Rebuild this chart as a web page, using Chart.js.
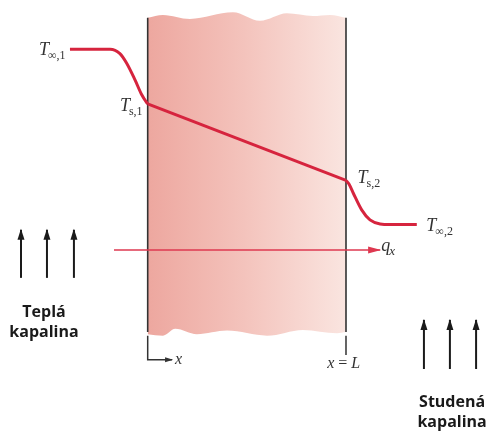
<!DOCTYPE html>
<html>
<head>
<meta charset="utf-8">
<script src="https://cdn.jsdelivr.net/npm/chart.js@4.4.0/dist/chart.umd.min.js"></script>
<style>
  html, body { margin: 0; padding: 0; background: #fff; overflow: hidden; }
  canvas { display: block; }
</style>
</head>
<body>
<canvas id="wallChart" width="486" height="431"></canvas>
<script>
// Temperature profile. x is in units of wall thickness L (0 = hot face, 1 = cold face),
// T is relative temperature (T_inf,1 = 100, T_inf,2 = 0)
const hotFluidX = [-0.392, -0.19, -0.14, -0.106, -0.064, -0.030, -0.005, 0];
const hotFluidT = [100, 100, 97.5, 92, 82.5, 74, 69.5, 68.8];
const wallX = [0, 1];
const wallT = [68.8, 25.1];
const coldFluidX = [1, 1.015, 1.037, 1.079, 1.121, 1.172, 1.222, 1.357];
const coldFluidT = [25.1, 23.1, 17.8, 8.3, 2.6, 0.3, 0, 0];

// Wavy top and bottom edges of the wall slab
const wallTopX = [0, 0.077, 0.213, 0.430, 0.566, 0.702, 0.833, 0.919, 1];
const wallTopT = [118.0, 119.6, 117.3, 121.1, 116.2, 120.5, 119.0, 119.6, 118.0];
const wallBottomX = [0, 0.077, 0.139, 0.248, 0.4, 0.602, 0.783, 0.955, 1];
const wallBottomT = [-62.7, -63.5, -59.6, -62.7, -60.6, -63.5, -60.2, -62.1, -61.4];

// Flow arrows (fluid moving upward) and heat flux arrow
const hotArrowX = [-0.639, -0.508, -0.372];
const coldArrowX = [1.393, 1.524, 1.656];
const hotArrowT = [-30.5, -3.1];
const coldArrowT = [-82.5, -54.5];
const fluxX = [-0.17, 1.172];
const fluxT = -14.6;

const pts = (xs, ys) => xs.map((x, i) => ({ x, y: ys[i] }));

const red = 'rgb(214, 36, 62)';
const ink = '#1a1a1a';
const serif = '"Liberation Serif", "DejaVu Serif", serif';

// symbol labels: runs of [text, style]; m = italic main, s = subscript, si = italic subscript, n = normal
const symbolLabels = [
  { x: -0.548, y: 96.7, runs: [['T', 'm'], ['∞,1', 's']] },
  { x: -0.14, y: 64.8, runs: [['T', 'm'], ['s,1', 's']] },
  { x: 1.058, y: 23.7, runs: [['T', 'm'], ['s,2', 's']] },
  { x: 1.405, y: -3.7, runs: [['T', 'm'], ['∞,2', 's']] },
  { x: 1.178, y: -15.1, runs: [['q', 'm'], ['x', 'si']] },
  { x: 0.138, y: -79.6, runs: [['x', 'sm']] },
  { x: 0.905, y: -81.9, runs: [['x', 'sm'], [' = ', 'n'], ['L', 'sm']] }
];
const fluidLabels = [
  { x: -0.523, y: -52.8, text: 'Teplá' },
  { x: -0.523, y: -64.2, text: 'kapalina' },
  { x: 1.535, y: -104.2, text: 'Studená' },
  { x: 1.535, y: -115.6, text: 'kapalina' }
];

const runFont = {
  m: ['italic 18px ' + serif, 0],
  s: ['12px ' + serif, 4],
  si: ['italic 13px ' + serif, 4],
  sm: ['italic 16px ' + serif, 0],
  n: ['16px ' + serif, 0]
};

const arrowHeads = {
  id: 'arrowHeads',
  afterDatasetsDraw(chart) {
    const ctx = chart.ctx;
    chart.data.datasets.forEach((ds, i) => {
      if (!ds.head) return;
      const el = chart.getDatasetMeta(i).data;
      const a = el[el.length - 2], b = el[el.length - 1];
      const ang = Math.atan2(b.y - a.y, b.x - a.x);
      ctx.save();
      ctx.translate(b.x, b.y);
      ctx.rotate(ang);
      ctx.beginPath();
      ctx.moveTo(1, 0);
      ctx.lineTo(-ds.head[0], -ds.head[1] / 2);
      ctx.lineTo(-ds.head[0], ds.head[1] / 2);
      ctx.closePath();
      ctx.fillStyle = ds.borderColor;
      ctx.fill();
      ctx.restore();
    });
  }
};

const texts = {
  id: 'texts',
  afterDraw(chart) {
    const { ctx, scales: { x, y } } = chart;
    ctx.save();
    ctx.textBaseline = 'alphabetic';
    ctx.fillStyle = '#333';
    ctx.textAlign = 'left';
    symbolLabels.forEach(l => {
      let px = x.getPixelForValue(l.x);
      const py = y.getPixelForValue(l.y);
      l.runs.forEach(([t, s]) => {
        ctx.font = runFont[s][0];
        ctx.fillText(t, px, py + runFont[s][1]);
        px += ctx.measureText(t).width - (s === 'm' ? 1 : 0);
      });
    });
    ctx.fillStyle = ink;
    ctx.textAlign = 'center';
    ctx.font = 'bold 16px "Open Sans", sans-serif';
    fluidLabels.forEach(l => {
      ctx.fillText(l.text, x.getPixelForValue(l.x), y.getPixelForValue(l.y));
    });
    ctx.restore();
  }
};

const line = (data, color, width, extra) => Object.assign({
  data, borderColor: color, borderWidth: width, pointRadius: 0,
  showLine: true, fill: false, tension: 0
}, extra || {});

const datasets = [
  line(pts(hotFluidX, hotFluidT), red, 3, { cubicInterpolationMode: 'monotone', borderCapStyle: 'butt' }),
  line(pts(wallX, wallT), red, 3),
  line(pts(coldFluidX, coldFluidT), red, 3, { cubicInterpolationMode: 'monotone' }),
  line([{ x: fluxX[0], y: fluxT }, { x: fluxX[1], y: fluxT }], 'rgb(222, 56, 80)', 1.6, { head: [12, 7] })
];
hotArrowX.concat(coldArrowX).forEach((ax, i) => {
  const span = i < 3 ? hotArrowT : coldArrowT;
  datasets.push(line([{ x: ax, y: span[0] }, { x: ax, y: span[1] }], ink, 2, { head: [10, 7] }));
});
// wall faces and the x / x = L markers below the slab
datasets.push(line([{ x: 0, y: wallTopT[0] }, { x: 0, y: -61.4 }], '#333', 1.6));
datasets.push(line([{ x: 1, y: wallTopT[wallTopT.length - 1] }, { x: 1, y: -61.4 }], '#333', 1.6));
datasets.push(line([{ x: 0, y: -63.6 }, { x: 0, y: -77.3 }, { x: 0.123, y: -77.3 }], '#333', 1.5, { head: [7, 5] }));
datasets.push(line([{ x: 1, y: -63.6 }, { x: 1, y: -74.5 }], '#333', 1.5));
// slab fill between the wavy edges
datasets.push(line(pts(wallTopX, wallTopT), 'rgba(0,0,0,0)', 0, {
  cubicInterpolationMode: 'monotone',
  fill: '+1',
  backgroundColor(c) {
    const ch = c.chart;
    if (!ch.chartArea) return 'rgb(242,195,188)';
    const x0 = ch.scales.x.getPixelForValue(0), x1 = ch.scales.x.getPixelForValue(1);
    const g = ch.ctx.createLinearGradient(x0, 0, x1, 0);
    g.addColorStop(0, 'rgb(237, 167, 159)');
    g.addColorStop(0.5, 'rgb(244, 196, 189)');
    g.addColorStop(1, 'rgb(250, 229, 224)');
    return g;
  }
}));
datasets.push(line(pts(wallBottomX, wallBottomT), 'rgba(0,0,0,0)', 0, { cubicInterpolationMode: 'monotone' }));

new Chart(document.getElementById('wallChart'), {
  type: 'scatter',
  data: { datasets },
  options: {
    responsive: false,
    animation: false,
    layout: { padding: 0 },
    plugins: { legend: { display: false }, tooltip: { enabled: false } },
    scales: {
      x: { type: 'linear', min: -0.7448, max: 1.706, display: false },
      y: { type: 'linear', min: -117.9, max: 128.1, display: false }
    }
  },
  plugins: [arrowHeads, texts]
});
</script>
</body>
</html>
